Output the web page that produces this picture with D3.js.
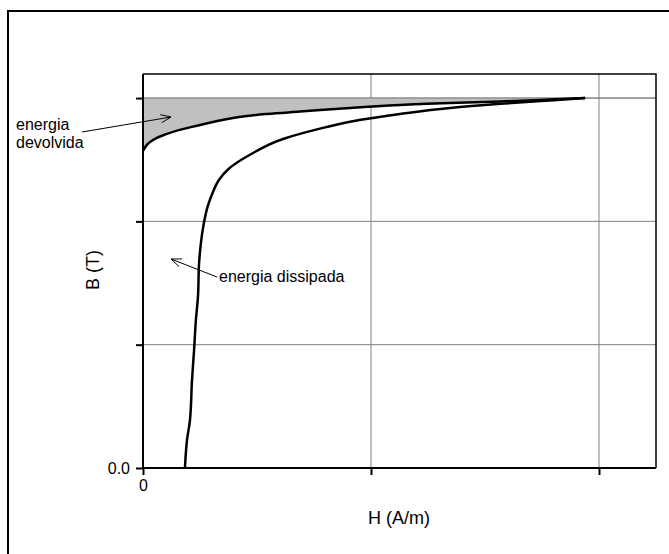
<!DOCTYPE html>
<html>
<head>
<meta charset="utf-8">
<script src="https://cdn.jsdelivr.net/npm/d3@7"></script>
<style>
  html, body { margin: 0; padding: 0; background: #fff; }
  svg { display: block; }
  text { font-family: "Liberation Sans", Arial, sans-serif; fill: #000; }
</style>
</head>
<body>
<svg id="chart" width="669" height="554"></svg>
<script>
// Magnetization curve (first magnetization, B rising from 0)
const magH = [0.184, 0.193, 0.206, 0.215, 0.224, 0.232, 0.241, 0.246, 0.252, 0.268, 0.283, 0.305, 0.333, 0.375, 0.469, 0.614, 0.763, 0.908, 1.127, 1.346, 1.566, 1.785, 1.939];
const magB = [0.000, 0.227, 0.389, 0.714, 0.957, 1.200, 1.387, 1.663, 1.792, 1.995, 2.117, 2.230, 2.336, 2.425, 2.540, 2.668, 2.746, 2.808, 2.871, 2.920, 2.953, 2.981, 3.000];

// Demagnetization curve (field removed, B falls back)
const demH = [0.000, 0.013, 0.044, 0.105, 0.250, 0.395, 0.544, 0.689, 0.908, 1.127, 1.346, 1.566, 1.785, 1.939];
const demB = [2.571, 2.611, 2.660, 2.709, 2.782, 2.839, 2.871, 2.890, 2.920, 2.944, 2.960, 2.972, 2.988, 3.000];

// Axis ticks and labels
const xTicks = [0, 1, 2];
const yTicks = [0, 1, 2, 3];
const xTickLabels = ["0", "", ""];
const yTickLabels = ["0.0", "", "", ""];
const Bmax = 3.0;

const svg = d3.select("#chart");
const margin = { left: 143, top: 74, right: 656, bottom: 468 };

const x = d3.scaleLinear().domain([0, 2.25]).range([margin.left, margin.right]);
const y = d3.scaleLinear().domain([0, 3.195]).range([margin.bottom, margin.top]);

// Outer frame
svg.append("path")
  .attr("d", "M8,560 L8,11 L680,11")
  .attr("fill", "none").attr("stroke", "#000").attr("stroke-width", 2);

// Gridlines
svg.append("g").selectAll("line").data(xTicks.slice(1)).join("line")
  .attr("x1", d => x(d)).attr("x2", d => x(d))
  .attr("y1", margin.top).attr("y2", margin.bottom)
  .attr("stroke", "#808080").attr("stroke-width", 1);
svg.append("g").selectAll("line").data(yTicks.slice(1)).join("line")
  .attr("x1", margin.left).attr("x2", margin.right)
  .attr("y1", d => y(d)).attr("y2", d => y(d))
  .attr("stroke", "#808080").attr("stroke-width", 1);

// Shaded region: energy returned (between B max and demagnetization curve)
const demPts = demH.map((h, i) => [h, demB[i]]);
const magPts = magH.map((h, i) => [h, magB[i]]);

svg.append("path")
  .datum(demPts)
  .attr("d", d3.area()
    .x(d => x(d[0]))
    .y0(() => y(Bmax))
    .y1(d => y(d[1]))
    .curve(d3.curveMonotoneX))
  .attr("fill", "#c0c0c0");

// Top gridline redrawn over the fill
svg.append("line")
  .attr("x1", margin.left).attr("x2", margin.right)
  .attr("y1", y(3)).attr("y2", y(3))
  .attr("stroke", "#808080").attr("stroke-width", 1);

// Curves
svg.append("path").datum(magPts)
  .attr("d", d3.line().x(d => x(d[0])).y(d => y(d[1])).curve(d3.curveMonotoneY))
  .attr("fill", "none").attr("stroke", "#000").attr("stroke-width", 2.5);
svg.append("path").datum(demPts)
  .attr("d", d3.line().x(d => x(d[0])).y(d => y(d[1])).curve(d3.curveMonotoneX))
  .attr("fill", "none").attr("stroke", "#000").attr("stroke-width", 2.5);

// Plot frame (top and right)
svg.append("path")
  .attr("d", `M${margin.left},${margin.top} L${margin.right},${margin.top} L${margin.right},${margin.bottom}`)
  .attr("fill", "none").attr("stroke", "#000").attr("stroke-width", 1.5);

// Axes
const xAxis = d3.axisBottom(x).tickValues(xTicks).tickSize(7).tickPadding(5)
  .tickFormat((d, i) => xTickLabels[i]);
const yAxis = d3.axisLeft(y).tickValues(yTicks).tickSize(7).tickPadding(6)
  .tickFormat((d, i) => yTickLabels[i]);

const gx = svg.append("g").attr("transform", `translate(0,${margin.bottom})`).call(xAxis);
const gy = svg.append("g").attr("transform", `translate(${margin.left},0)`).call(yAxis);
[gx, gy].forEach(g => {
  g.select(".domain").attr("stroke", "#000").attr("stroke-width", 2);
  g.selectAll(".tick line").attr("stroke", "#000").attr("stroke-width", 2);
  g.selectAll(".tick text").attr("font-size", 16)
    .attr("font-family", "Liberation Sans, Arial, sans-serif").attr("fill", "#000");
});
gx.select(".domain").attr("d", `M${margin.left},0H${margin.right}`);
gy.select(".domain").attr("d", `M0,${margin.bottom}V${margin.top}`);

// Axis titles
svg.append("text")
  .attr("x", 399).attr("y", 524)
  .attr("text-anchor", "middle").attr("font-size", 18)
  .text("H (A/m)");
svg.append("text")
  .attr("transform", "translate(99,270) rotate(-90)")
  .attr("text-anchor", "middle").attr("font-size", 18)
  .text("B (T)");

// Annotations
function arrow(x1, y1, x2, y2) {
  const ang = Math.atan2(y2 - y1, x2 - x1);
  const len = 11, spread = 0.38;
  svg.append("line").attr("x1", x1).attr("y1", y1).attr("x2", x2).attr("y2", y2)
    .attr("stroke", "#000").attr("stroke-width", 1);
  const p = a => [x2 - len * Math.cos(ang + a), y2 - len * Math.sin(ang + a)];
  const a1 = p(spread), a2 = p(-spread);
  svg.append("path")
    .attr("d", `M${a1[0]},${a1[1]} L${x2},${y2} L${a2[0]},${a2[1]}`)
    .attr("fill", "none").attr("stroke", "#000").attr("stroke-width", 1);
}

const devText = svg.append("text").attr("font-size", 16);
devText.append("tspan").attr("x", 16).attr("y", 130).text("energia");
devText.append("tspan").attr("x", 16).attr("y", 148).text("devolvida");
arrow(82, 132, 171, 117);

svg.append("text").attr("x", 219).attr("y", 282).attr("font-size", 16).text("energia dissipada");
arrow(217, 277, 171, 259);
</script>
</body>
</html>
